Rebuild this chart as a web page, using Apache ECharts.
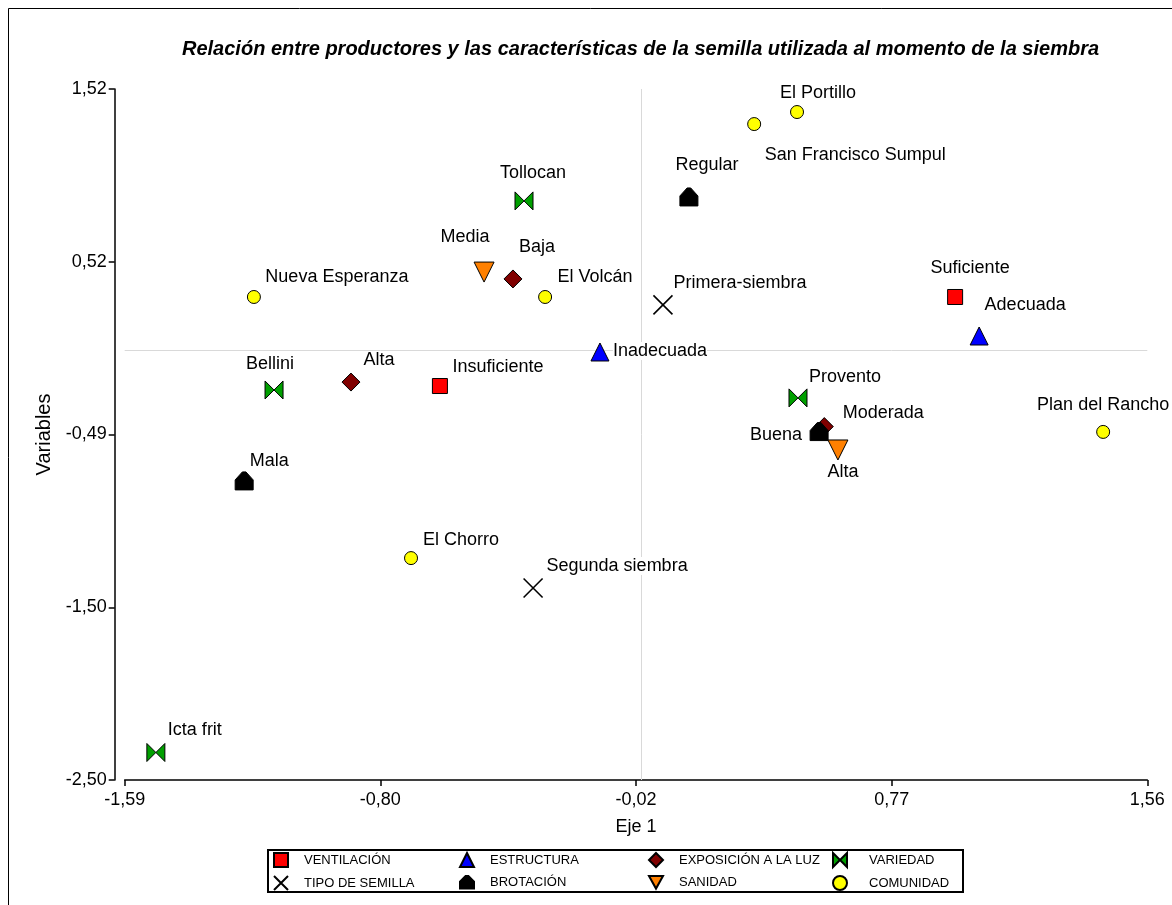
<!DOCTYPE html>
<html>
<head>
<meta charset="utf-8">
<title>Relación entre productores y las características de la semilla</title>
<script src="https://cdn.jsdelivr.net/npm/echarts@6/dist/echarts.min.js"></script>
<style>
html, body { margin: 0; padding: 0; background: #fff; }
#chart { width: 1172px; height: 905px; }
</style>
</head>
<body>
<div id="chart"></div>
<script>
// axis ticks (equal steps between min and max) and their printed labels
const xTicks = [-1.59, -0.8025, -0.015, 0.7725, 1.56];
const xTickLabels = ['-1,59', '-0,80', '-0,02', '0,77', '1,56'];
const yTicks = [1.52, 0.515, -0.49, -1.495, -2.50];
const yTickLabels = ['1,52', '0,52', '-0,49', '-1,50', '-2,50'];

// VENTILACIÓN
const ventNames = ['Suficiente', 'Insuficiente'];
const ventX = [0.968, -0.619];
const ventY = [0.310, -0.208];
// TIPO DE SEMILLA
const tipoNames = ['Primera-siembra', 'Segunda siembra'];
const tipoX = [0.068, -0.332];
const tipoY = [0.264, -1.383];
// ESTRUCTURA
const estrNames = ['Adecuada', 'Inadecuada'];
const estrX = [1.042, -0.126];
const estrY = [0.083, -0.010];
// BROTACIÓN
const brotNames = ['Regular', 'Buena', 'Mala'];
const brotX = [0.148, 0.549, -1.222];
const brotY = [0.892, -0.473, -0.760];
// EXPOSICIÓN A LA LUZ
const expoNames = ['Baja', 'Alta', 'Moderada'];
const expoX = [-0.394, -0.893, 0.565];
const expoY = [0.415, -0.185, -0.444];
// SANIDAD
const saniNames = ['Media', 'Alta'];
const saniX = [-0.483, 0.607];
const saniY = [0.455, -0.580];
// VARIEDAD
const variNames = ['Tollocan', 'Bellini', 'Provento', 'Icta frit'];
const variX = [-0.360, -1.130, 0.484, -1.494];
const variY = [0.869, -0.231, -0.277, -2.340];
// COMUNIDAD
const comuNames = ['Nueva Esperanza', 'El Volcán', 'El Portillo', 'San Francisco Sumpul', 'Plan del Rancho', 'El Chorro'];
const comuX = [-1.192, -0.295, 0.481, 0.349, 1.424, -0.708];
const comuY = [0.310, 0.310, 1.386, 1.316, -0.475, -1.209];

// where each point's label sits, relative to the marker (px)
const labelOffsets = {
    vent: [[15, -29], [58, -19]],
    tipo: [[77, -22], [84, -22]],
    estr: [[46, -31], [60, -1]],
    brot: [[18, -32], [-43, 3], [25, -20]],
    expo: [[24, -32], [28, -22], [59, -14]],
    sani: [[-19, -35], [5, 22]],
    vari: [[9, -28], [-4, -26], [47, -21], [39, -22]],
    comu: [[83, -20], [50, -20], [21, -19], [101, 31], [0, -27], [50, -18]]
};

const FONT = 'Arial, "Liberation Sans", sans-serif';

const chart = echarts.init(document.getElementById('chart'));

function pointsFor(names, xs, ys, offsets) {
    return names.map((n, i) => ({
        name: n,
        value: [xs[i], ys[i]],
        label: { offset: offsets[i] }
    }));
}

function scatter(name, data, symbol, size, color, borderWidth) {
    return {
        name: name,
        type: 'scatter',
        z: 3,
        data: data,
        symbol: symbol,
        symbolSize: size,
        itemStyle: {
            color: color,
            borderColor: '#000',
            borderWidth: borderWidth || 1,
            opacity: 1
        },
        label: {
            show: true,
            position: 'inside',
            formatter: '{b}',
            color: '#000',
            textBorderWidth: 0,
            fontSize: 18,
            fontFamily: FONT,
            backgroundColor: '#fff'
        },
        emphasis: { disabled: true }
    };
}

const crossPath = 'path://M0,0 L10,10 M10,0 L0,10';
const housePath = 'path://M0,10 L0,5 L4,1 L6,1 L10,5 L10,10 Z';
const bowPath = 'path://M0,0 L5,5 L0,10 Z M10,0 L5,5 L10,10 Z';
const downTri = 'path://M0,0 L10,0 L5,9 Z';

function tickText(ticks, labels) {
    return function (v) {
        for (let i = 0; i < ticks.length; i++) {
            if (Math.abs(ticks[i] - v) < 1e-6) return labels[i];
        }
        return '';
    };
}

const legendBase = {
    orient: 'vertical',
    top: 852,
    height: 50,
    padding: 0,
    itemWidth: 14,
    itemHeight: 14,
    itemGap: 7,
    selectedMode: false,
    textStyle: { fontSize: 13, fontFamily: FONT, color: '#000', padding: [0, 0, 0, 11] }
};

// gray reference lines through the origin, kept under the points
const originLines = {
    name: 'origen',
    type: 'scatter',
    z: 1,
    data: [],
    silent: true,
    markLine: {
        silent: true,
        z: 1,
        symbol: 'none',
        label: { show: false },
        emphasis: { disabled: true },
        lineStyle: { color: '#d9d9d9', width: 1, type: 'solid' },
        data: [{ xAxis: 0 }, { yAxis: 0 }]
    }
};

const option = {
    backgroundColor: '#fff',
    animation: false,
    title: {
        text: 'Relación entre productores y las características de la semilla utilizada al momento de la siembra',
        left: 177,
        top: 34,
        textStyle: {
            fontSize: 20,
            fontWeight: 'bold',
            fontStyle: 'italic',
            fontFamily: FONT,
            color: '#000'
        }
    },
    grid: {
        left: 124.7,
        right: 24.7,
        top: 89,
        bottom: 125,
        containLabel: false
    },
    xAxis: {
        type: 'value',
        min: -1.59,
        max: 1.56,
        name: 'Eje 1',
        nameLocation: 'middle',
        nameGap: 38,
        nameTextStyle: { fontSize: 18, fontFamily: FONT, color: '#000' },
        axisLine: { onZero: false, lineStyle: { color: '#000', width: 1.5 } },
        axisTick: { show: true, length: 6, lineStyle: { color: '#000', width: 1.5 }, customValues: xTicks },
        axisLabel: {
            customValues: xTicks,
            formatter: tickText(xTicks, xTickLabels),
            fontSize: 18,
            fontFamily: FONT,
            color: '#000',
            margin: 11
        },
        splitLine: { show: false }
    },
    yAxis: {
        type: 'value',
        min: -2.50,
        max: 1.52,
        offset: 10,
        name: 'Variables',
        nameLocation: 'middle',
        nameGap: 54,
        nameTextStyle: { fontSize: 20, fontFamily: FONT, color: '#000' },
        axisLine: { show: true, onZero: false, lineStyle: { color: '#000', width: 1.5 } },
        axisTick: { show: true, length: 6, lineStyle: { color: '#000', width: 1.5 }, customValues: yTicks },
        axisLabel: {
            customValues: yTicks,
            formatter: tickText(yTicks, yTickLabels),
            fontSize: 18,
            fontFamily: FONT,
            color: '#000',
            margin: 8
        },
        splitLine: { show: false }
    },
    legend: [
        Object.assign({}, legendBase, { left: 273, data: ['VENTILACIÓN', 'TIPO DE SEMILLA'] }),
        Object.assign({}, legendBase, { left: 459, data: ['ESTRUCTURA', 'BROTACIÓN'] }),
        Object.assign({}, legendBase, { left: 648, data: ['EXPOSICIÓN A LA LUZ', 'SANIDAD'] }),
        Object.assign({}, legendBase, { left: 832, data: ['VARIEDAD', 'COMUNIDAD'], textStyle: { fontSize: 13, fontFamily: FONT, color: '#000', padding: [0, 0, 0, 17] } })
    ],
    graphic: [
        {
            type: 'rect',
            shape: { x: 8.5, y: 8.5, width: 1200, height: 1000 },
            style: { fill: 'none', stroke: '#000', lineWidth: 1 },
            silent: true
        },
        {
            type: 'rect',
            shape: { x: 268, y: 850, width: 695, height: 42 },
            style: { fill: 'none', stroke: '#000', lineWidth: 2 },
            silent: true
        }
    ],
    series: [
        originLines,
        scatter('VENTILACIÓN', pointsFor(ventNames, ventX, ventY, labelOffsets.vent), 'rect', 15, '#ff0000'),
        scatter('TIPO DE SEMILLA', pointsFor(tipoNames, tipoX, tipoY, labelOffsets.tipo), crossPath, 19, '#000', 1.6),
        scatter('ESTRUCTURA', pointsFor(estrNames, estrX, estrY, labelOffsets.estr), 'triangle', 18, '#0000ff'),
        scatter('EXPOSICIÓN A LA LUZ', pointsFor(expoNames, expoX, expoY, labelOffsets.expo), 'diamond', 18, '#800000'),
        scatter('BROTACIÓN', pointsFor(brotNames, brotX, brotY, labelOffsets.brot), housePath, 18, '#000'),
        scatter('SANIDAD', pointsFor(saniNames, saniX, saniY, labelOffsets.sani), downTri, 20, '#ff8000'),
        scatter('VARIEDAD', pointsFor(variNames, variX, variY, labelOffsets.vari), bowPath, 18, '#00a000'),
        scatter('COMUNIDAD', pointsFor(comuNames, comuX, comuY, labelOffsets.comu), 'circle', 13, '#ffff00')
    ]
};

chart.setOption(option);
</script>
</body>
</html>
